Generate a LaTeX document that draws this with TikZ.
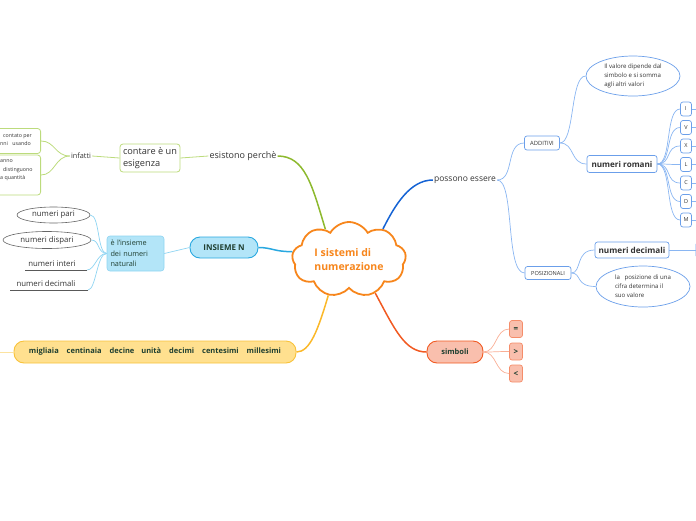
\documentclass[tikz,border=0pt]{standalone}
\usepackage{fontspec}
\setmainfont{Open Sans}
\usetikzlibrary{shapes.geometric,shapes.symbols}
\definecolor{orangeC}{HTML}{F7861C}
\definecolor{greenM}{HTML}{8DB92E}
\definecolor{greenL}{HTML}{BCDB7C}
\definecolor{cyanM}{HTML}{29A8E0}
\definecolor{cyanF}{HTML}{B3E5F8}
\definecolor{cyanL}{HTML}{8ED4F2}
\definecolor{yelM}{HTML}{FBB829}
\definecolor{yelF}{HTML}{FFE08F}
\definecolor{yelB}{HTML}{F8C23A}
\definecolor{yelL}{HTML}{FCE3A0}
\definecolor{redM}{HTML}{F15A22}
\definecolor{redF}{HTML}{F9BFAD}
\definecolor{redB}{HTML}{F58D6A}
\definecolor{redL}{HTML}{F9AE95}
\definecolor{blueM}{HTML}{1563D4}
\definecolor{blueL}{HTML}{8AB6F2}
\definecolor{blueB}{HTML}{6B9FEA}
\definecolor{txt}{HTML}{333333}
\definecolor{dgreen}{HTML}{1F3F30}
\tikzset{
  plain/.style={inner sep=1pt, font=\fontsize{8.5}{10}\selectfont, text=txt},
  gbox/.style={draw=greenL, line width=0.8pt, rounded corners=3pt, fill=white, align=left, text=txt, inner sep=0pt},
  cpill/.style={draw=cyanM, line width=0.9pt, fill=cyanF, rounded corners=10pt, text=dgreen, font=\bfseries\fontsize{8}{9}\selectfont, minimum width=68pt, minimum height=21pt, inner sep=0pt},
  cbox/.style={draw=cyanL, line width=0.6pt, fill=cyanF, rounded corners=3pt, align=left, text=dgreen, font=\fontsize{7.3}{10.5}\selectfont, minimum width=57pt, minimum height=35pt, inner sep=0pt, text width=50pt},
  gell/.style={ellipse, draw=gray!80!black, line width=0.6pt, fill=white, text=txt, font=\fontsize{7.8}{9}\selectfont, inner sep=0pt},
  uline/.style={inner sep=1pt, text=txt, font=\fontsize{7.8}{9}\selectfont},
  bbox/.style={draw=blueB, line width=0.7pt, fill=white, rounded corners=2.5pt, inner sep=0pt, text=txt},
  bell/.style={ellipse, draw=blueB, line width=0.7pt, fill=white, align=left, text=txt, font=\fontsize{6.1}{9}\selectfont, inner sep=0pt},
  rbox/.style={draw=redB, line width=0.7pt, fill=redF, rounded corners=2.5pt, inner sep=0pt, text=dgreen, font=\bfseries\fontsize{8}{9}\selectfont, minimum width=13pt, minimum height=17pt},
  gline/.style={greenL, line width=0.8pt},
  cline/.style={cyanL, line width=0.7pt},
  bline/.style={blueL, line width=0.7pt},
  rline/.style={redL, line width=0.7pt},
}
\begin{document}
\begin{tikzpicture}[x=1pt,y=-1pt]
\useasboundingbox (0,0) rectangle (696,520);
\clip (0,0) rectangle (696,520);

% central cloud
\node[cloud, draw=orangeC, line width=1.8pt, fill=white, cloud puffs=9, cloud puff arc=120, aspect=1.65, minimum width=114pt, minimum height=68pt, inner sep=0pt, align=left, text=orangeC, font=\bfseries\fontsize{10.5}{13.5}\selectfont] (c) at (349,259.5) {I sistemi di\\numerazione};

% ---------- green branch
\node[plain, font=\fontsize{9}{10}\selectfont] (esist) at (243,156) {esistono perchè};
\node[gbox, font=\fontsize{9.2}{12}\selectfont, minimum width=60pt, minimum height=28pt] (contare) at (150,158) {contare è un\\esigenza};
\node[plain, font=\fontsize{7.3}{8}\selectfont] (infatti) at (81,156) {infatti};
\node[gbox, minimum width=56pt, minimum height=25pt, anchor=east] (b1) at (41,141) {};
\node[gbox, minimum width=56pt, minimum height=40pt, anchor=east] (b2) at (41,175) {};
\node[anchor=west, inner sep=0pt, align=left, text=txt, font=\fontsize{5.3}{8}\selectfont] (b1t) at (0,140) {\hspace{3pt}contato per\\nni\hspace{3pt} usando};
\node[anchor=west, inner sep=0pt, align=left, text=txt, font=\fontsize{5.3}{8.5}\selectfont] (b2t) at (0,170.5) {anno\\\hspace{3pt}distinguono\\a quantità};

\draw[greenM, line width=1.5pt] (c.128) .. controls (312,185) and (305,156) .. (esist.east);
\draw[gline] (esist.west) -- (contare.east);
\draw[gline] (contare.west) -- (infatti.east);
\draw[gline] (infatti.west) .. controls (55,156) and (55,141) .. (b1.east);
\draw[gline] (infatti.west) .. controls (55,156) and (55,175) .. (b2.east);

% ---------- cyan branch
\node[cpill] (ins) at (224,247.5) {INSIEME N};
\node[cbox] (nat) at (135.5,253.5) {è l'insieme\\dei numeri\\naturali};
\node[gell, minimum width=73pt, minimum height=16pt] (pari) at (53.5,215) {numeri pari};
\node[gell, minimum width=88pt, minimum height=17pt] (disp) at (47,240) {numeri dispari};
\node[uline] (inter) at (52,263.5) {numeri interi};
\coordinate (interE) at (87,270);
\draw[gray!70!black, line width=0.6pt] (25,270) -- (interE);
\node[uline] (decim) at (46,283.5) {numeri decimali};
\coordinate (decimE) at (88,290);
\draw[gray!70!black, line width=0.6pt] (10,290) -- (decimE);

\draw[cyanM, line width=1.5pt] (c.172) .. controls (275,252) and (272,247.5) .. (ins.east);
\draw[cline] (ins.west) -- (nat.east);
\draw[cline] (nat.west) .. controls (97,253) and (100,215) .. (pari.east);
\draw[cline] (nat.west) .. controls (97,253) and (100,240) .. (disp.east);
\draw[cline] (nat.west) .. controls (97,253) and (95,270) .. (interE);
\draw[cline] (nat.west) .. controls (97,253) and (96,290) .. (decimE);

% ---------- yellow branch
\node[draw=yelB, line width=0.9pt, fill=yelF, rounded corners=10pt, minimum width=282pt, minimum height=22pt, inner sep=0pt, text=dgreen, font=\bfseries\fontsize{7.5}{8}\selectfont] (mil) at (155,352) {migliaia\hspace{6pt} centinaia\hspace{6pt} decine\hspace{5pt} unità\hspace{6pt} decimi\hspace{6pt} centesimi\hspace{6pt} millesimi};
\coordinate (milL) at (0,352);
\draw[yelM, line width=1.5pt] (c.240) .. controls (318,330) and (310,352) .. (mil.east);
\draw[yelL, line width=1pt] (mil.west) -- (milL);

% ---------- red branch
\node[draw=redM, line width=0.9pt, fill=redF, rounded corners=10pt, minimum width=56pt, minimum height=22pt, inner sep=0pt, text=dgreen, font=\bfseries\fontsize{7.5}{9}\selectfont] (simb) at (455,352) {simboli};
\node[rbox] (eq) at (516,329) {=};
\node[rbox] (gt) at (516,351.5) {>};
\node[rbox] (lt) at (516,373.5) {<};
\draw[redM, line width=1.5pt] (c.308) .. controls (395,330) and (405,352) .. (simb.west);
\draw[rline] (simb.east) .. controls (497,352) and (495,329) .. (eq.west);
\draw[rline] (simb.east) .. controls (497,352) and (495,351.5) .. (gt.west);
\draw[rline] (simb.east) .. controls (497,352) and (495,373.5) .. (lt.west);

% ---------- blue branch
\node[plain] (poss) at (465,180) {possono essere};
\node[bbox, minimum width=35pt, minimum height=14pt, font=\fontsize{5.8}{6}\selectfont] (add) at (542,143) {ADDITIVI};
\node[bbox, minimum width=46pt, minimum height=13pt, font=\fontsize{5.6}{6}\selectfont] (pos) at (548,273) {POSIZIONALI};
\node[bell, minimum width=94pt, minimum height=40pt] (e1) at (633,76) {Il valore dipende dal\\simbolo e si somma\\agli altri valori};
\node[bbox, minimum width=70pt, minimum height=17pt, font=\bfseries\fontsize{8.1}{9}\selectfont] (rom) at (622,164) {numeri romani};
\node[bbox, minimum width=74pt, minimum height=16pt, font=\bfseries\fontsize{8.2}{9}\selectfont] (dec) at (632,250) {numeri decimali};
\node[bell, minimum width=94pt, minimum height=41pt] (e2) at (643,286.5) {la\hspace{3pt} posizione di una\\cifra determina il\\suo valore};
\node[bbox, minimum width=14pt, minimum height=16pt] (dec2) at (703,250) {};

\draw[blueM, line width=1.5pt] (c.42) .. controls (395,205) and (410,180) .. (poss.west);
\draw[bline] (poss.east) .. controls (515,180) and (505,143) .. (add.west);
\draw[bline] (poss.east) .. controls (515,180) and (505,273) .. (pos.west);
\draw[bline] (add.east) .. controls (575,143) and (570,76) .. (e1.west);
\draw[bline] (add.east) .. controls (575,143) and (570,164) .. (rom.west);
\draw[bline] (pos.east) .. controls (582,273) and (575,250) .. (dec.west);
\draw[bline] (pos.east) .. controls (582,273) and (575,286.5) .. (e2.west);
\draw[bline] (dec.east) -- (dec2.west);

\foreach \n/\t/\y in {r1/I/109, r2/V/127.5, r3/X/146, r4/L/164.5, r5/C/183, r6/D/201.5, r7/M/220}{
  \node[bbox, minimum width=11pt, minimum height=14pt, font=\fontsize{5.5}{6}\selectfont] (\n) at (686,\y) {\t};
  \coordinate (\n e) at (697,\y);
  \draw[bline] (rom.east) .. controls (672,164) and (665,\y) .. (\n.west);
  \draw[bline] (\n.east) -- (\n e);
}
\end{tikzpicture}
\end{document}
